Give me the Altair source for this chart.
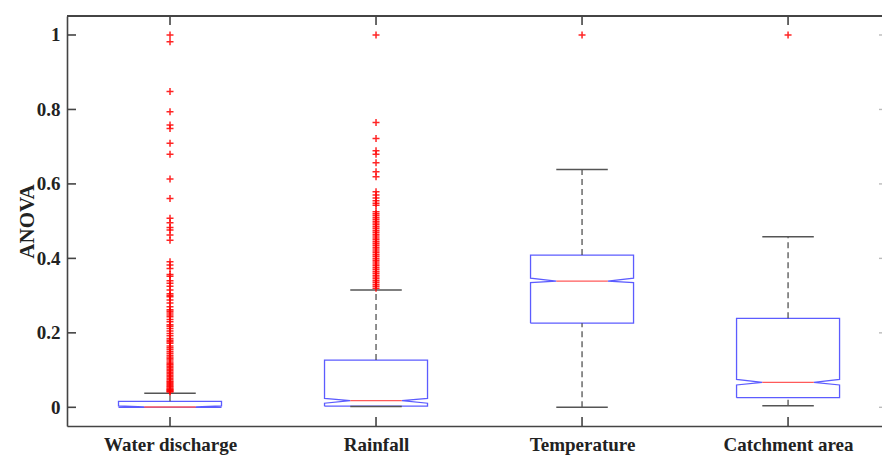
import altair as alt
import pandas as pd

# ---------------- data ----------------
categories = ["Water discharge", "Rainfall", "Temperature", "Catchment area"]
q1 = [0.0, 0.003, 0.226, 0.026]
median = [0.001, 0.018, 0.339, 0.067]
q3 = [0.016, 0.127, 0.409, 0.239]
notch_lo = [0.0, 0.011, 0.335, 0.060]
notch_hi = [0.004, 0.024, 0.347, 0.075]
whisker_lo = [0.0, 0.002, 0.0, 0.004]
whisker_hi = [0.038, 0.315, 0.639, 0.458]

outliers_water = [
    1.0, 0.982, 0.848, 0.794, 0.758, 0.749, 0.709, 0.680, 0.613, 0.561,
    0.508, 0.496, 0.483, 0.476, 0.463, 0.449, 0.391, 0.382, 0.373, 0.357,
    0.352, 0.340, 0.333, 0.325, 0.315, 0.305, 0.300, 0.297, 0.288, 0.280,
    0.270, 0.262, 0.258, 0.253, 0.248, 0.243, 0.236, 0.230, 0.222, 0.218,
    0.212, 0.205, 0.198, 0.192, 0.185, 0.180, 0.176, 0.172, 0.165, 0.160,
    0.155, 0.150, 0.145, 0.140, 0.135, 0.131, 0.127, 0.122, 0.118, 0.114,
    0.110, 0.106, 0.102, 0.098, 0.094, 0.090, 0.086, 0.082, 0.078, 0.074,
    0.070, 0.067, 0.064, 0.061, 0.058, 0.055, 0.052, 0.049, 0.047, 0.045,
    0.043, 0.041,
]
outliers_rain = [
    1.0, 0.765, 0.722, 0.689, 0.680, 0.657, 0.633, 0.619, 0.579, 0.570,
    0.562, 0.555, 0.548, 0.543, 0.525, 0.520, 0.515, 0.510, 0.505, 0.500,
    0.495, 0.490, 0.485, 0.480, 0.475, 0.470, 0.465, 0.460, 0.455, 0.450,
    0.445, 0.440, 0.435, 0.430, 0.425, 0.420, 0.415, 0.410, 0.405, 0.400,
    0.395, 0.390, 0.385, 0.380, 0.375, 0.370, 0.365, 0.360, 0.355, 0.350,
    0.345, 0.340, 0.335, 0.330, 0.325, 0.320,
]
outliers_temp = [1.0]
outliers_catch = [1.0]
outlier_lists = [outliers_water, outliers_rain, outliers_temp, outliers_catch]

y_ticks = [0, 0.2, 0.4, 0.6, 0.8, 1.0]

# ---------------- tables built from the lists ----------------
HALF = 0.25
INNER = 0.125
box_rows, rules, caps, meds, outs = [], [], [], [], []
for i, c in enumerate(categories):
    p = i + 1
    pts = [
        (p - HALF, q1[i]), (p + HALF, q1[i]), (p + HALF, notch_lo[i]),
        (p + INNER, median[i]), (p + HALF, notch_hi[i]), (p + HALF, q3[i]),
        (p - HALF, q3[i]), (p - HALF, notch_hi[i]), (p - INNER, median[i]),
        (p - HALF, notch_lo[i]), (p - HALF, q1[i]),
    ]
    for k, (x, y) in enumerate(pts):
        box_rows.append({"cat": c, "x": x, "y": y, "o": k})
    rules.append({"cat": c, "x": p, "y": q3[i], "y2": whisker_hi[i]})
    rules.append({"cat": c, "x": p, "y": whisker_lo[i], "y2": q1[i]})
    caps.append({"cat": c, "x": p - INNER, "x2": p + INNER, "y": whisker_hi[i]})
    if whisker_lo[i] < q1[i]:
        caps.append({"cat": c, "x": p - INNER, "x2": p + INNER, "y": whisker_lo[i]})
    meds.append({"cat": c, "x": p - INNER, "x2": p + INNER, "y": median[i]})
    for v in outlier_lists[i]:
        outs.append({"cat": c, "x": p, "y": v})

box_df = pd.DataFrame(box_rows)
rule_df = pd.DataFrame(rules)
cap_df = pd.DataFrame(caps)
med_df = pd.DataFrame(meds)
out_df = pd.DataFrame(outs)
pos_df = pd.DataFrame({"x": [1, 2, 3, 4]})
ytick_df = pd.DataFrame({"y": y_ticks})

W, H = 815, 410
FRAME = "#444444"
FONT = "Liberation Serif"

xscale = alt.Scale(domain=[0.5, 4.456], nice=False, zero=False)
yscale = alt.Scale(domain=[-0.0502, 1.051], nice=False, zero=False)

label_expr = "['', 'Water discharge', 'Rainfall', 'Temperature', 'Catchment area'][datum.value]"

xaxis = alt.Axis(values=[1, 2, 3, 4], labelExpr=label_expr, title=None, ticks=False,
                 grid=False, domainColor=FRAME, domainWidth=1.6, labelFont=FONT,
                 labelFontSize=19, labelFontWeight="bold", labelColor="#222222",
                 labelPadding=9)
yaxis = alt.Axis(values=y_ticks, format=".1~f", title="ANOVA", ticks=False, grid=False,
                 domainColor=FRAME, domainWidth=1.6, labelFont=FONT, labelFontSize=19,
                 labelFontWeight="bold", labelColor="#222222", labelPadding=7,
                 titleFont=FONT, titleFontSize=21, titleFontWeight="bold",
                 titleColor="#222222", titleAngle=270, titleX=-40, titleY=205,
                 titleAlign="center", titleBaseline="middle")

X = alt.X("x:Q", scale=xscale, axis=xaxis)
Y = alt.Y("y:Q", scale=yscale, axis=yaxis)

boxes = alt.Chart(box_df).mark_line(color="#5c5cff", strokeWidth=1.3).encode(
    x=X, y=Y, detail="cat:N", order="o:Q")

whiskers = alt.Chart(rule_df).mark_rule(color="#333333", strokeWidth=1.1,
                                        strokeDash=[6, 4]).encode(
    x=alt.X("x:Q", scale=xscale), y=alt.Y("y:Q", scale=yscale), y2="y2:Q")

caps_l = alt.Chart(cap_df).mark_rule(color="#555555", strokeWidth=1.5).encode(
    x=alt.X("x:Q", scale=xscale), x2="x2:Q", y=alt.Y("y:Q", scale=yscale))

meds_l = alt.Chart(med_df).mark_rule(color="#ff5a5a", strokeWidth=1.4).encode(
    x=alt.X("x:Q", scale=xscale), x2="x2:Q", y=alt.Y("y:Q", scale=yscale))

plus = "M-1,0L1,0M0,-1L0,1"
outl = alt.Chart(out_df).mark_point(shape=plus, filled=False, color="#ff0000",
                                    strokeWidth=1.5, size=49, opacity=0.85).encode(
    x=alt.X("x:Q", scale=xscale), y=alt.Y("y:Q", scale=yscale))

# inward ticks (MATLAB style) and the top frame line
top_line = alt.Chart(pos_df).mark_rule(color=FRAME, strokeWidth=1.6).encode(
    x=alt.value(0), x2=alt.value(W), y=alt.value(0))
xt_bottom = alt.Chart(pos_df).mark_rule(color=FRAME, strokeWidth=1.6).encode(
    x=alt.X("x:Q", scale=xscale), y=alt.value(H), y2=alt.value(H - 9))
xt_top = alt.Chart(pos_df).mark_rule(color=FRAME, strokeWidth=1.6).encode(
    x=alt.X("x:Q", scale=xscale), y=alt.value(0), y2=alt.value(9))
yt_left = alt.Chart(ytick_df).mark_rule(color=FRAME, strokeWidth=1.6).encode(
    y=alt.Y("y:Q", scale=yscale), x=alt.value(0), x2=alt.value(9))
yt_right = alt.Chart(ytick_df).mark_rule(color="#bbbbbb", strokeWidth=1.4).encode(
    y=alt.Y("y:Q", scale=yscale), x=alt.value(W - 3), x2=alt.value(W))

chart = alt.layer(
    boxes, whiskers, caps_l, meds_l, outl, top_line, xt_bottom, xt_top, yt_left, yt_right
).properties(
    width=W, height=H,
    autosize=alt.AutoSizeParams(type="none"),
    padding={"left": 67, "top": 16, "right": 0, "bottom": 29},
).configure_view(stroke=None).configure(background="white")

chart.save("out.html", embed_options={"renderer": "svg", "actions": False})
